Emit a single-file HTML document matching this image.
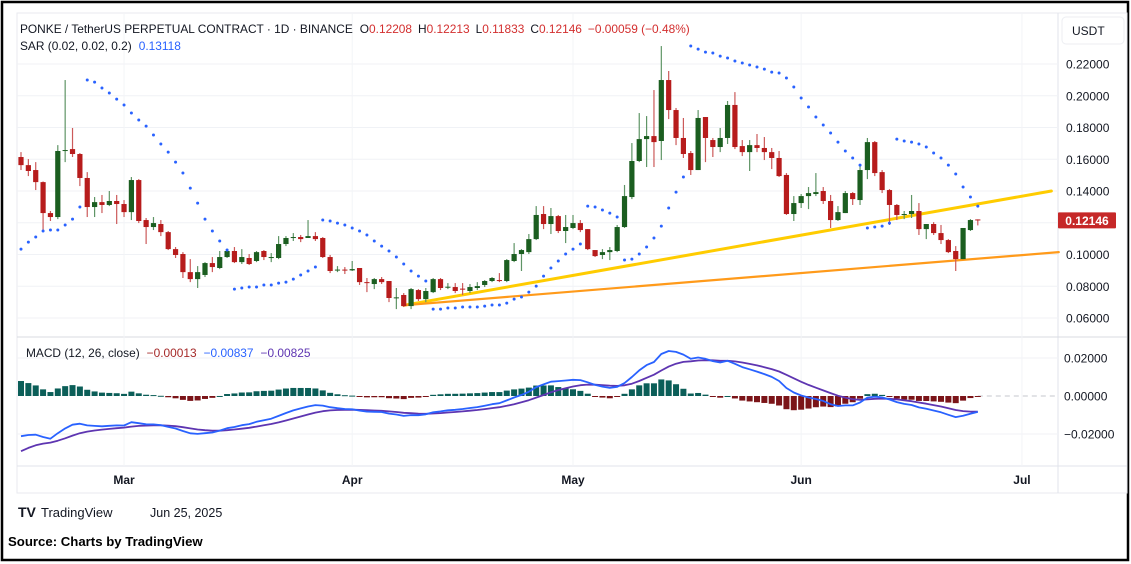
<!DOCTYPE html>
<html><head><meta charset="utf-8"><style>
html,body{margin:0;padding:0;background:#fff;}
body{width:1131px;height:564px;overflow:hidden;position:relative;font-family:"Liberation Sans",sans-serif;}
svg{position:absolute;left:0;top:0;}
</style></head><body>
<svg id="chart" width="1131" height="564" viewBox="0 0 1131 564" xmlns="http://www.w3.org/2000/svg">
<rect x="2" y="2" width="1126" height="558" fill="#fff" stroke="#000" stroke-width="2.5"/>
<rect x="17" y="13" width="1110" height="480" fill="none" stroke="#e8eaef" stroke-width="1"/>
<line x1="1058" y1="13" x2="1058" y2="493" stroke="#e0e3eb"/>
<line x1="17" y1="337" x2="1127" y2="337" stroke="#d8dbe2"/>
<line x1="17" y1="466" x2="1127" y2="466" stroke="#e0e3eb"/>
<g id="grid"></g>
<g id="trend"></g>
<g id="candles"></g>
<g id="sar"></g>
<g id="macd"></g>
<g id="axes"></g>
<rect x="1062" y="17" width="62" height="27" rx="4" fill="#fff" stroke="#eceef2"/>
<text x="1072" y="35" font-size="12" fill="#131722">USDT</text>
<text x="20" y="33" font-size="11.9" fill="#131722">PONKE / TetherUS PERPETUAL CONTRACT · 1D · BINANCE<tspan dx="7">O</tspan><tspan fill="#d32f2f">0.12208</tspan><tspan dx="6">H</tspan><tspan fill="#d32f2f">0.12213</tspan><tspan dx="6">L</tspan><tspan fill="#d32f2f">0.11833</tspan><tspan dx="6">C</tspan><tspan fill="#d32f2f">0.12146</tspan><tspan dx="6" fill="#d32f2f">−0.00059 (−0.48%)</tspan></text>
<text x="20" y="50" font-size="11.9" fill="#131722">SAR (0.02, 0.02, 0.2)<tspan dx="7" fill="#2962ff">0.13118</tspan></text>
<text x="26" y="357" font-size="11.9" fill="#131722">MACD (12, 26, close)<tspan dx="7" fill="#a52a2a">−0.00013</tspan><tspan dx="7" fill="#2962ff">−0.00837</tspan><tspan dx="7" fill="#5e35b1">−0.00825</tspan></text>
<g>
<text x="18" y="517" font-size="14" font-weight="bold" fill="#131722">TV</text>
<text x="41" y="517" font-size="13" fill="#131722">TradingView</text>
</g>
<text x="150" y="517" font-size="12.5" fill="#131722">Jun 25, 2025</text>
<text x="8" y="546" font-size="13.2" font-weight="bold" fill="#000">Source: Charts by TradingView</text>
</svg>
<script>
const opens=[.1614,.1563,.1532,.1456,.1261,.1236,.1652,.1664,.1633,.1482,.1299,.1330,.1312,.1337,.1318,.1267,.1469,.1217,.1173,.1192,.1141,.1034,.1003,.0889,.0845,.0871,.0946,.0915,.0984,.1022,.0952,.0978,.0959,.1022,.0978,.0978,.1066,.1104,.1110,.1104,.1116,.1104,.0984,.0902,.0905,.0900,.0915,.0826,.0814,.0845,.0833,.0726,.0745,.0675,.0776,.0719,.0763,.0845,.0792,.0795,.0785,.0770,.0789,.0808,.0833,.0839,.0833,.0959,.1003,.1015,.1097,.1255,.1192,.1242,.1148,.1167,.1198,.1160,.1028,.0997,.1015,.1022,.1173,.1362,.1589,.1727,.1746,.1715,.2099,.1910,.1734,.1639,.1532,.1866,.1721,.1677,.1734,.1942,.1683,.1645,.1689,.1671,.1645,.1608,.1501,.1255,.1324,.1368,.1381,.1400,.1337,.1217,.1261,.1387,.1343,.1532,.1708,.1519,.1406,.1312,.1249,.1255,.1274,.1160,.1192,.1135,.1091,.1022,.0971,.1154,.12208];
const highs=[.1645,.1601,.1582,.1460,.1274,.1689,.2099,.1797,.1639,.1519,.1362,.1375,.1400,.1375,.1343,.1488,.1475,.1230,.1236,.1217,.1148,.1047,.1015,.0971,.0927,.0952,.0984,.1022,.1022,.1047,.1034,.1003,.1022,.1028,.1009,.1116,.1116,.1135,.1123,.1217,.1141,.1110,.0997,.0927,.0921,.0959,.0915,.0852,.0852,.0858,.0833,.0789,.0757,.0789,.0782,.0789,.0852,.0852,.0820,.0820,.0820,.0814,.0826,.0839,.0858,.0883,.0971,.1072,.1034,.1129,.1305,.1305,.1293,.1249,.1249,.1249,.1217,.1160,.1028,.1034,.1047,.1186,.1438,.1702,.1891,.1872,.2036,.2313,.2156,.1923,.1860,.1652,.1910,.1866,.1734,.1797,.1967,.2023,.1721,.1721,.1759,.1740,.1671,.1652,.1513,.1368,.1381,.1425,.1513,.1425,.1375,.1305,.1400,.1393,.1563,.1734,.1715,.1532,.1412,.1318,.1274,.1375,.1324,.1192,.1204,.1186,.1097,.1053,.1167,.1223,.12213];
const lows=[.1532,.1494,.1406,.1141,.1211,.1223,.1582,.1614,.1431,.1236,.1236,.1261,.1305,.1192,.1236,.1217,.1198,.1066,.1154,.1116,.1028,.0978,.0852,.0826,.0789,.0858,.0889,.0908,.0978,.0946,.0940,.0934,.0952,.0965,.0952,.0971,.1053,.1085,.1078,.1104,.1085,.0978,.0883,.0889,.0877,.0896,.0808,.0763,.0782,.0814,.0700,.0656,.0669,.0656,.0707,.0700,.0757,.0776,.0782,.0757,.0745,.0757,.0776,.0795,.0826,.0826,.0826,.0952,.0896,.1003,.1091,.1160,.1129,.1135,.1072,.1160,.1141,.1028,.0984,.0971,.0965,.1015,.1167,.1349,.1582,.1551,.1551,.1595,.1853,.1689,.1608,.1501,.1532,.1582,.1614,.1645,.1696,.1664,.1620,.1526,.1645,.1595,.1538,.1488,.1249,.1211,.1293,.1286,.1368,.1318,.1167,.1211,.1261,.1312,.1312,.1475,.1494,.1387,.1186,.1217,.1223,.1230,.1123,.1097,.1123,.1066,.1009,.0896,.0971,.1148,.11833];
const closes=[.1563,.1526,.1456,.1261,.1236,.1652,.1658,.1633,.1482,.1299,.1330,.1312,.1337,.1318,.1267,.1469,.1211,.1173,.1198,.1141,.1034,.0997,.0889,.0845,.0889,.0946,.0921,.0984,.1022,.0952,.0984,.0940,.1015,.0984,.0984,.1066,.1104,.1110,.1097,.1116,.1097,.0984,.0896,.0905,.0900,.0908,.0826,.0820,.0845,.0826,.0726,.0730,.0675,.0782,.0719,.0770,.0845,.0789,.0797,.0770,.0780,.0795,.0801,.0833,.0852,.0833,.0965,.1003,.1028,.1097,.1249,.1192,.1242,.1148,.1173,.1198,.1154,.1034,.0990,.1015,.1028,.1173,.1368,.1589,.1727,.1746,.1708,.2099,.1910,.1734,.1633,.1532,.1860,.1734,.1677,.1734,.1942,.1677,.1645,.1689,.1671,.1645,.1608,.1494,.1255,.1324,.1368,.1387,.1393,.1337,.1217,.1267,.1387,.1349,.1532,.1708,.1513,.1406,.1312,.1249,.1255,.1274,.1160,.1192,.1135,.1091,.1015,.0971,.1167,.1217,.12146];
const sarValues=[.1034,.1078,.1110,.1148,.1154,.1154,.1186,.1223,.1299,.2099,.2086,.2049,.2017,.1979,.1942,.1891,.1847,.1809,.1753,.1696,.1645,.1582,.1513,.1418,.1324,.1223,.1148,.1085,.1028,.0782,.0789,.0795,.0795,.0808,.0808,.0820,.0826,.0845,.0871,.0896,.0921,.1217,.1211,.1198,.1186,.1167,.1148,.1123,.1085,.1053,.1022,.0984,.0940,.0896,.0864,.0833,.0656,.0656,.0663,.0663,.0669,.0669,.0669,.0675,.0682,.0682,.0694,.0719,.0732,.0763,.0801,.0864,.0915,.0959,.1003,.1034,.1066,.1305,.1299,.1280,.1261,.1236,.0965,.0971,.1003,.1047,.1104,.1179,.1293,.1393,.1488,.2313,.2294,.2275,.2269,.2250,.2238,.2219,.2206,.2194,.2181,.2168,.2149,.2143,.2112,.2055,.1986,.1929,.1866,.1816,.1765,.1708,.1652,.1608,.1563,.1167,.1173,.1179,.1198,.1727,.1715,.1708,.1696,.1677,.1639,.1608,.1563,.1507,.1425,.1362,.1305];
const macdSeeds=[.166,.188,-.031];
const priceTicks=[0.22,0.20,0.18,0.16,0.14,0.12,0.10,0.08,0.06];
const priceTickLabels=["0.22000","0.20000","0.18000","0.16000","0.14000","","0.10000","0.08000","0.06000"];
const macdTicks=[0.02,0,-0.02];
const macdTickLabels=["0.02000","0.00000","−0.02000"];
const monthLabels=["Mar","Apr","May","Jun","Jul"];
const monthIdx=[14,45,75,106,136];
const yellowLine=[52,0.0680,140,0.1400];
const orangeLine=[52,0.0680,141,0.1015];
const lastPrice=0.12146;

const NS="http://www.w3.org/2000/svg";
function xOf(i){return 21+i*7.36;}
function yP(p){return 64+(0.22-p)*1587.5;}
function yM(v){return 396-v*1900;}
function mk(tag,attrs,parent){const e=document.createElementNS(NS,tag);for(const k in attrs)e.setAttribute(k,attrs[k]);parent.appendChild(e);return e;}

const grid=document.getElementById('grid');
priceTicks.forEach((t,i)=>{const l=mk('line',{x1:17,x2:1058,y1:yP(t),y2:yP(t),stroke:'#f0f2f6'},grid);

});
macdTicks.forEach(t=>{if(t===0)return;const l=mk('line',{x1:17,x2:1058,y1:yM(t),y2:yM(t),stroke:'#f0f2f6'},grid);

});
monthIdx.forEach(m=>{const l=mk('line',{x1:xOf(m),x2:xOf(m),y1:13,y2:466,stroke:'#f3f4f7'},grid);

});

const axes=document.getElementById('axes');
priceTicks.forEach((t,i)=>{if(!priceTickLabels[i])return;const tx=mk('text',{x:1066,y:yP(t)+4.5,'font-size':12,fill:'#131722'},axes);tx.textContent=priceTickLabels[i];

});
macdTicks.forEach((t,i)=>{const tx=mk('text',{x:1064,y:yM(t)+4.5,'font-size':12,fill:'#131722'},axes);tx.textContent=macdTickLabels[i];

});
monthLabels.forEach((m,i)=>{const tx=mk('text',{x:xOf(monthIdx[i]),y:484,'font-size':12,'font-weight':'bold',fill:'#131722','text-anchor':'middle'},axes);tx.textContent=m;

});
const pb=mk('rect',{x:1058,y:yP(lastPrice)-8,width:58,height:16,fill:'#c62828',rx:1},axes);


const pt=mk('text',{x:1087,y:yP(lastPrice)+4.5,'font-size':12,'font-weight':'bold',fill:'#fff','text-anchor':'middle'},axes);pt.textContent=lastPrice.toFixed(5);



const tr=document.getElementById('trend');
const yl=mk('line',{x1:xOf(yellowLine[0]),y1:yP(yellowLine[1]),x2:xOf(yellowLine[2]),y2:yP(yellowLine[3]),stroke:'#ffcc00','stroke-width':3,'stroke-linecap':'round'},tr);


const ol=mk('line',{x1:xOf(orangeLine[0]),y1:yP(orangeLine[1]),x2:xOf(orangeLine[2]),y2:yP(orangeLine[3]),stroke:'#ff9a1a','stroke-width':2.2,'stroke-linecap':'round'},tr);



const cg=document.getElementById('candles');
closes.forEach((c,i)=>{const o=opens[i],up=c>=o,x=xOf(i);
const col=up?'#1b5e20':'#b71c1c',wc=up?'#5f9566':'#cc5a5a';
const w=mk('line',{x1:x,x2:x,y1:yP(highs[i]),y2:yP(lows[i]),stroke:wc,'stroke-width':1.2},cg);


const top=yP(Math.max(o,c)),bot=yP(Math.min(o,c));
const b=mk('rect',{x:x-2.6,y:top,width:5.2,height:Math.max(1,bot-top),fill:col},cg);

});

const sg=document.getElementById('sar');
sarValues.forEach((s,i)=>{const d=mk('circle',{cx:xOf(i),cy:yP(s),r:1.5,fill:'#2962ff'},sg);

});

const mg=document.getElementById('macd');
let e12=macdSeeds[0],e26=macdSeeds[1],sig=macdSeeds[2];
const mv=[],sv=[],hv=[];
closes.forEach(c=>{e12+=(c-e12)*2/13;e26+=(c-e26)*2/27;const m=e12-e26;sig+=(m-sig)*2/10;mv.push(m);sv.push(sig);hv.push(m-sig);});
const zl=mk('line',{x1:xOf(closes.length-1),x2:1058,y1:yM(0),y2:yM(0),stroke:'#c4c7ce','stroke-dasharray':'5 4'},mg);


hv.forEach((h,i)=>{const y0=yM(0),y1=yM(h);
const r=mk('rect',{x:xOf(i)-3,y:Math.min(y0,y1),width:6,height:Math.max(1,Math.abs(y1-y0)),fill:h>=0?'#0b5e58':'#7b1418'},mg);

});
function poly(vals,color,name){const p=mk('polyline',{points:vals.map((v,i)=>xOf(i).toFixed(1)+','+yM(v).toFixed(1)).join(' '),fill:'none',stroke:color,'stroke-width':1.8,'stroke-linejoin':'round'},mg);

}
poly(sv,'#5e35b1','signal-line');
poly(mv,'#2962ff','macd-line');
</script>
</body></html>
